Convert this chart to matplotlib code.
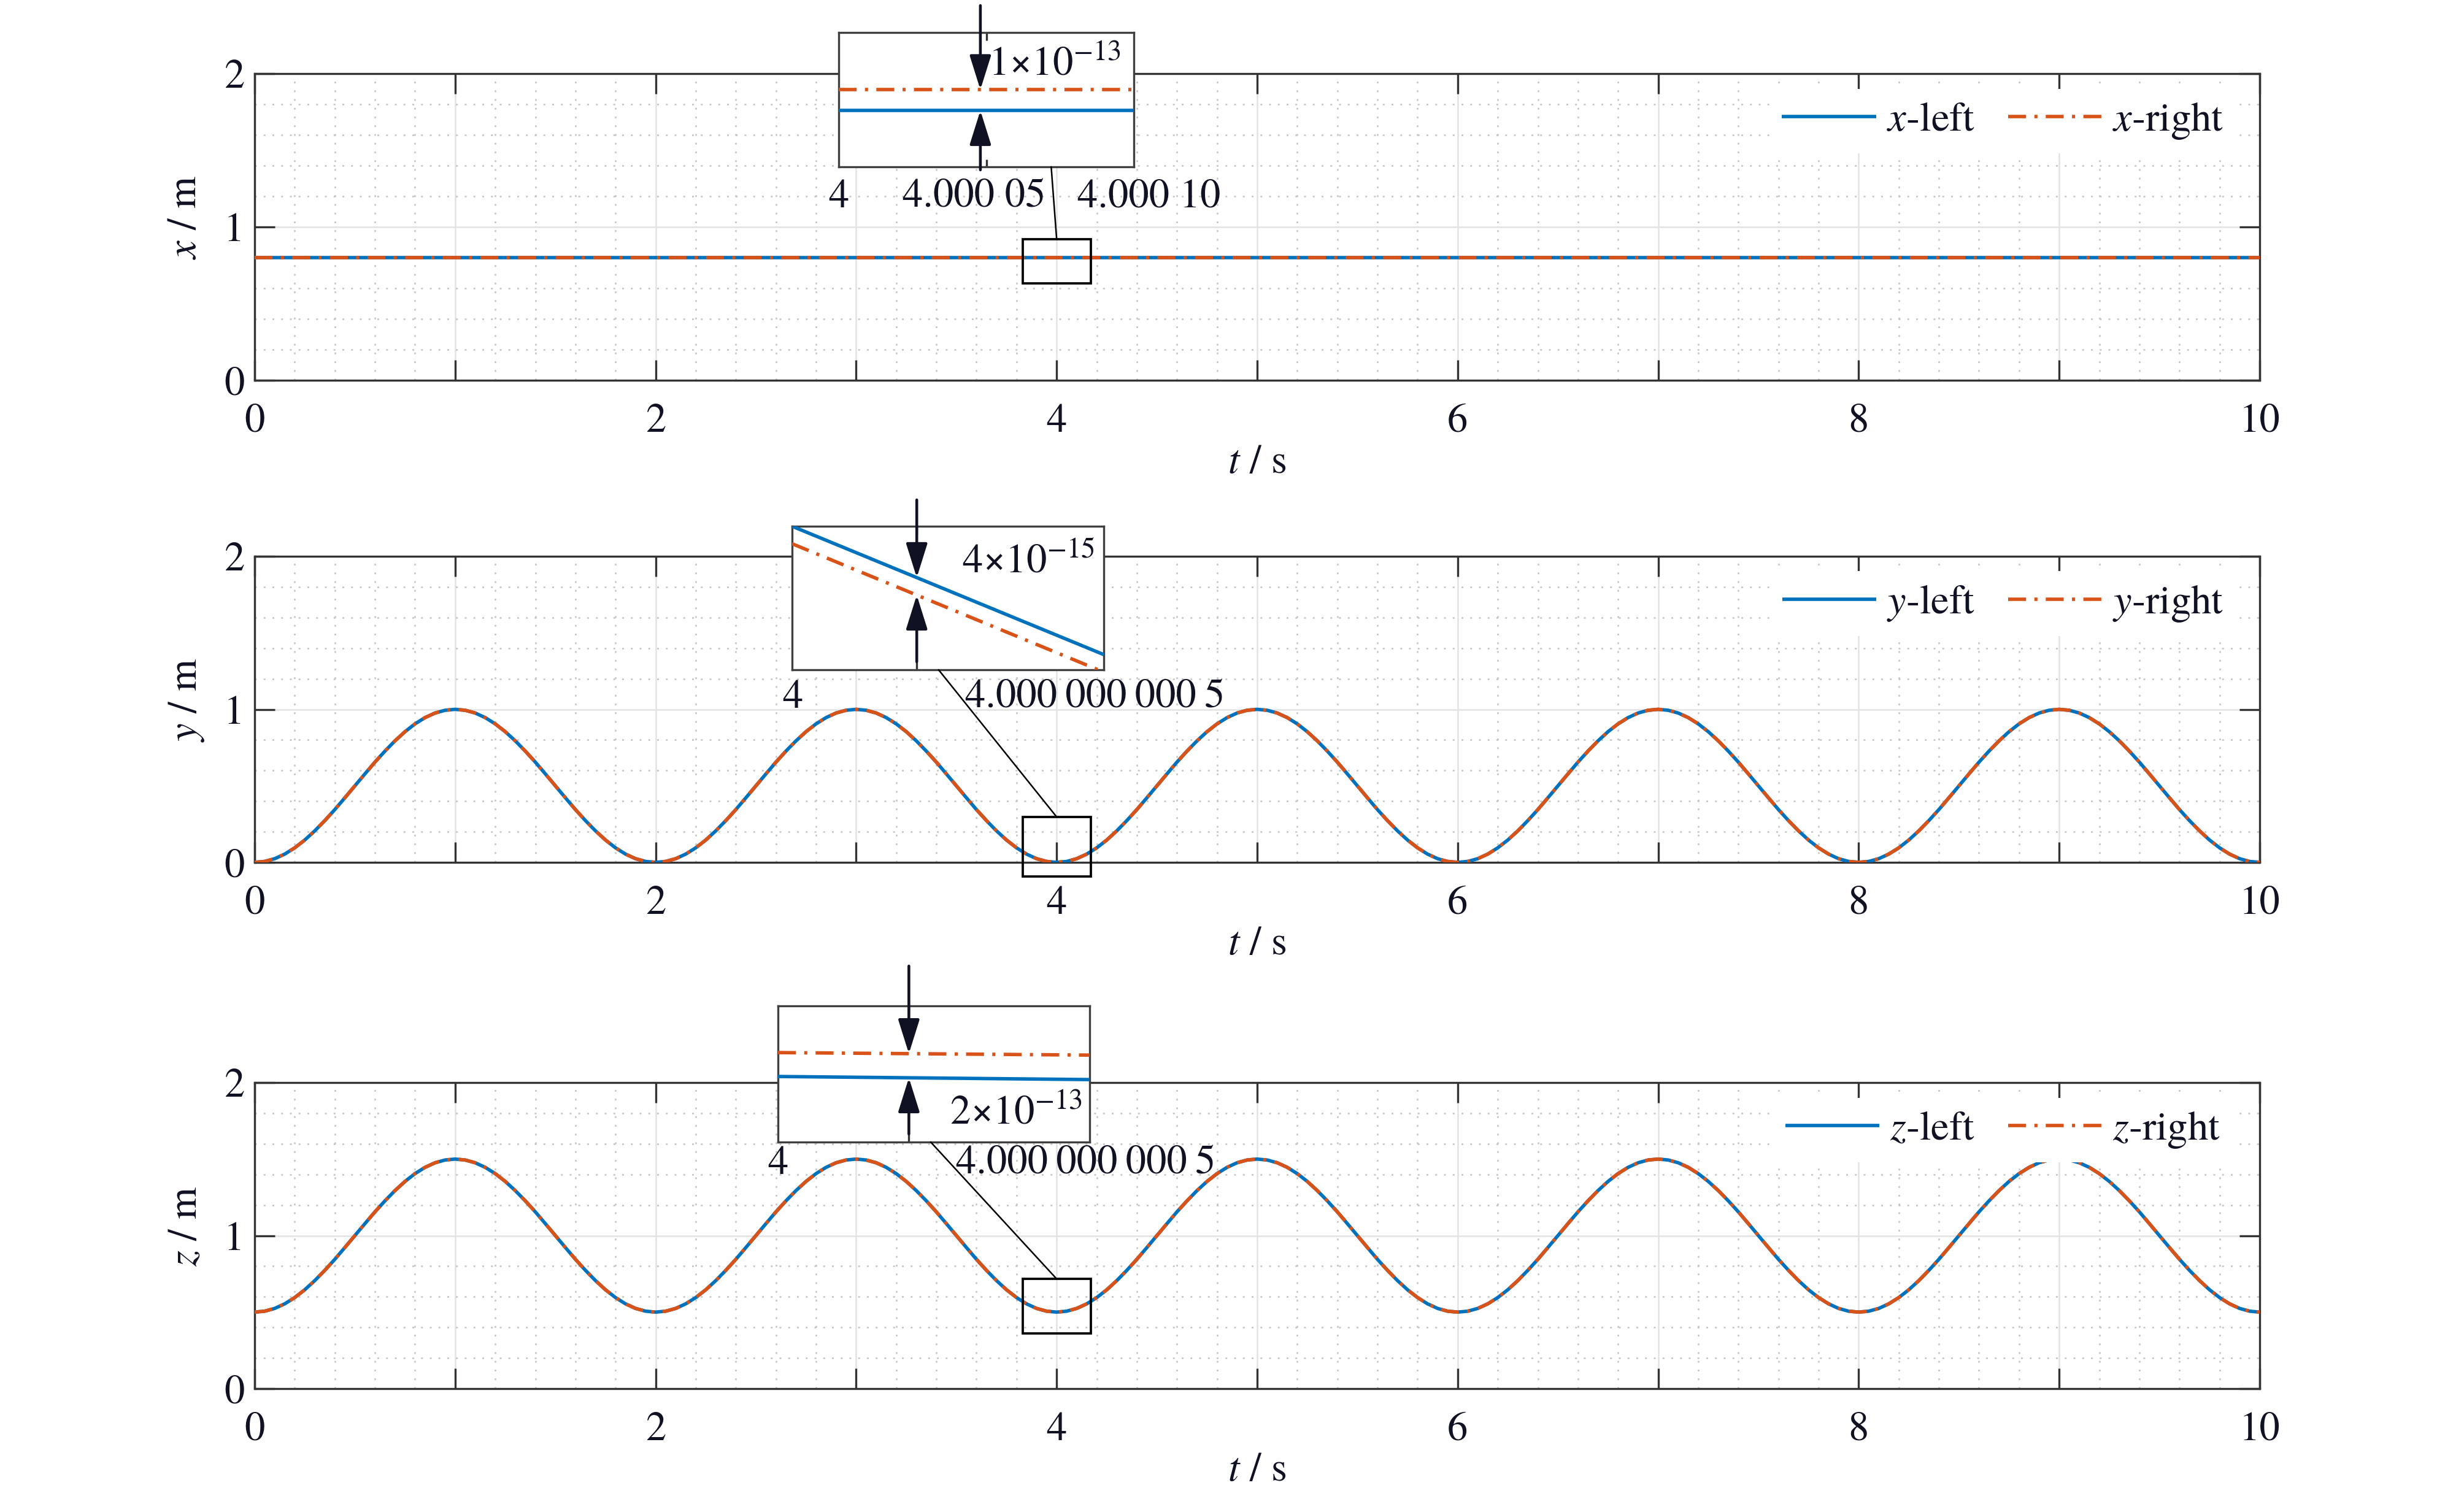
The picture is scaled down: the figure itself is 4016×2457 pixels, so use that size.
import numpy as np
import matplotlib
matplotlib.use("Agg")
import matplotlib.pyplot as plt
from matplotlib.patches import Rectangle, ConnectionPatch
from matplotlib.ticker import MultipleLocator, FixedLocator, FuncFormatter

# ---------------- data ----------------
t = np.round(np.arange(0, 201) * 0.05, 2)          # time samples, s

x_t = [0.0, 10.0]
x_left = [0.80, 0.80]
x_right = [0.80, 0.80]

y_left = [
    0.000, 0.006, 0.024, 0.054, 0.095, 0.146, 0.206, 0.273, 0.345, 0.422, 0.500, 0.578, 0.655, 0.727, 0.794, 0.854, 0.905, 0.946, 0.976, 0.994,
    1.000, 0.994, 0.976, 0.946, 0.905, 0.854, 0.794, 0.727, 0.655, 0.578, 0.500, 0.422, 0.345, 0.273, 0.206, 0.146, 0.095, 0.054, 0.024, 0.006,
    0.000, 0.006, 0.024, 0.054, 0.095, 0.146, 0.206, 0.273, 0.345, 0.422, 0.500, 0.578, 0.655, 0.727, 0.794, 0.854, 0.905, 0.946, 0.976, 0.994,
    1.000, 0.994, 0.976, 0.946, 0.905, 0.854, 0.794, 0.727, 0.655, 0.578, 0.500, 0.422, 0.345, 0.273, 0.206, 0.146, 0.095, 0.054, 0.024, 0.006,
    0.000, 0.006, 0.024, 0.054, 0.095, 0.146, 0.206, 0.273, 0.345, 0.422, 0.500, 0.578, 0.655, 0.727, 0.794, 0.854, 0.905, 0.946, 0.976, 0.994,
    1.000, 0.994, 0.976, 0.946, 0.905, 0.854, 0.794, 0.727, 0.655, 0.578, 0.500, 0.422, 0.345, 0.273, 0.206, 0.146, 0.095, 0.054, 0.024, 0.006,
    0.000, 0.006, 0.024, 0.054, 0.095, 0.146, 0.206, 0.273, 0.345, 0.422, 0.500, 0.578, 0.655, 0.727, 0.794, 0.854, 0.905, 0.946, 0.976, 0.994,
    1.000, 0.994, 0.976, 0.946, 0.905, 0.854, 0.794, 0.727, 0.655, 0.578, 0.500, 0.422, 0.345, 0.273, 0.206, 0.146, 0.095, 0.054, 0.024, 0.006,
    0.000, 0.006, 0.024, 0.054, 0.095, 0.146, 0.206, 0.273, 0.345, 0.422, 0.500, 0.578, 0.655, 0.727, 0.794, 0.854, 0.905, 0.946, 0.976, 0.994,
    1.000, 0.994, 0.976, 0.946, 0.905, 0.854, 0.794, 0.727, 0.655, 0.578, 0.500, 0.422, 0.345, 0.273, 0.206, 0.146, 0.095, 0.054, 0.024, 0.006,
    0.000]
y_right = list(y_left)

z_left = [
    0.500, 0.506, 0.524, 0.554, 0.595, 0.646, 0.706, 0.773, 0.845, 0.922, 1.000, 1.078, 1.155, 1.227, 1.294, 1.354, 1.405, 1.446, 1.476, 1.494,
    1.500, 1.494, 1.476, 1.446, 1.405, 1.354, 1.294, 1.227, 1.155, 1.078, 1.000, 0.922, 0.845, 0.773, 0.706, 0.646, 0.595, 0.554, 0.524, 0.506,
    0.500, 0.506, 0.524, 0.554, 0.595, 0.646, 0.706, 0.773, 0.845, 0.922, 1.000, 1.078, 1.155, 1.227, 1.294, 1.354, 1.405, 1.446, 1.476, 1.494,
    1.500, 1.494, 1.476, 1.446, 1.405, 1.354, 1.294, 1.227, 1.155, 1.078, 1.000, 0.922, 0.845, 0.773, 0.706, 0.646, 0.595, 0.554, 0.524, 0.506,
    0.500, 0.506, 0.524, 0.554, 0.595, 0.646, 0.706, 0.773, 0.845, 0.922, 1.000, 1.078, 1.155, 1.227, 1.294, 1.354, 1.405, 1.446, 1.476, 1.494,
    1.500, 1.494, 1.476, 1.446, 1.405, 1.354, 1.294, 1.227, 1.155, 1.078, 1.000, 0.922, 0.845, 0.773, 0.706, 0.646, 0.595, 0.554, 0.524, 0.506,
    0.500, 0.506, 0.524, 0.554, 0.595, 0.646, 0.706, 0.773, 0.845, 0.922, 1.000, 1.078, 1.155, 1.227, 1.294, 1.354, 1.405, 1.446, 1.476, 1.494,
    1.500, 1.494, 1.476, 1.446, 1.405, 1.354, 1.294, 1.227, 1.155, 1.078, 1.000, 0.922, 0.845, 0.773, 0.706, 0.646, 0.595, 0.554, 0.524, 0.506,
    0.500, 0.506, 0.524, 0.554, 0.595, 0.646, 0.706, 0.773, 0.845, 0.922, 1.000, 1.078, 1.155, 1.227, 1.294, 1.354, 1.405, 1.446, 1.476, 1.494,
    1.500, 1.494, 1.476, 1.446, 1.405, 1.354, 1.294, 1.227, 1.155, 1.078, 1.000, 0.922, 0.845, 0.773, 0.706, 0.646, 0.595, 0.554, 0.524, 0.506,
    0.500]
z_right = list(z_left)

# zoom insets (offsets after t = 4 s; values relative, in the stated units)
ins1_t = [0.0, 10.0]          # x 1e-5 s
ins1_left = [2.7, 2.7]        # x 1e-13 m
ins1_right = [3.7, 3.7]
ins2_t = [0.0, 5.0]           # x 1e-10 s
ins2_left = [31.2, 3.3]       # x 1e-15 m
ins2_right = [27.4, -0.5]
ins3_t = [0.0, 5.0]           # x 1e-10 s
ins3_left = [5.49, 5.23]      # x 1e-13 m
ins3_right = [7.49, 7.28]

x_ticks = list(range(0, 11))
y_ticks = [0, 1, 2]
ylabels = ["$x$ / m", "$y$ / m", "$z$ / m"]
legend_names = [("$x$-left", "$x$-right"), ("$y$-left", "$y$-right"), ("$z$-left", "$z$-right")]
gap_texts = ["1×10$^{-13}$", "4×10$^{-15}$", "2×10$^{-13}$"]
ins_labels = [["4", "4.000 05", "4.000 10"],
              ["4", "4.000\u2009000\u2009000\u20095"],
              ["4", "4.000\u2009000\u2009000\u20095"]]

# ---------------- style ----------------
plt.rcParams["font.family"] = ["TeX Gyre Termes", "STIXGeneral", "DejaVu Serif"]
plt.rcParams["mathtext.fontset"] = "stix"

W, H = 4016, 2457
DPI = 300
fig = plt.figure(figsize=(W / DPI, H / DPI), dpi=DPI)
fig.patch.set_facecolor("white")

TXT = "#111124"
SP = "#333333"
BLUE = "#0072BD"
ORANGE = "#D95319"
LW = 1.35
DASH = (5.2, 2.4, 0.9, 2.4)
FS = 16


def fpos(l, r, tp, b):
    return [l / W, 1 - b / H, (r - l) / W, (b - tp) / H]


panel_px = [(415, 3683, 120, 620), (415, 3683, 907, 1406), (415, 3683, 1765, 2264)]
series = [(x_t, x_left, x_right), (t, y_left, y_right), (t, z_left, z_right)]
rects = [(0.632, 0.920), (-0.092, 0.297), (0.361, 0.717)]

axes = []
for i, (pp, (tt, sl, sr)) in enumerate(zip(panel_px, series)):
    ax = fig.add_axes(fpos(*pp))
    axes.append(ax)
    ax.set_xlim(0, 10)
    ax.set_ylim(0, 2)
    ax.set_axisbelow(True)
    ax.plot(tt, sl, color=BLUE, lw=LW, solid_capstyle="butt", solid_joinstyle="round",
            label=legend_names[i][0], zorder=3)
    ax.plot(tt, sr, color=ORANGE, lw=LW, dashes=DASH, dash_capstyle="butt",
            label=legend_names[i][1], zorder=4)
    ax.xaxis.set_major_locator(FixedLocator(x_ticks))
    ax.xaxis.set_major_formatter(FuncFormatter(lambda v, p: str(int(round(v))) if int(round(v)) % 2 == 0 else ""))
    ax.yaxis.set_major_locator(FixedLocator(y_ticks))
    ax.xaxis.set_minor_locator(MultipleLocator(0.2))
    ax.yaxis.set_minor_locator(MultipleLocator(0.2))
    ax.grid(which="major", color="#e3e3e3", lw=0.6, ls="-")
    ax.grid(which="minor", color="#c4c4c4", lw=0.6, ls=(0, (1.2, 4.5)))
    ax.tick_params(which="major", direction="in", length=8, width=0.8, color=SP,
                   top=True, right=True, labelsize=FS, labelcolor=TXT)
    ax.tick_params(axis="x", which="major", pad=9)
    ax.tick_params(axis="y", which="major", pad=4)
    ax.tick_params(which="minor", length=0)
    for s in ax.spines.values():
        s.set_color(SP)
        s.set_linewidth(0.8)
    ax.set_xlabel("$t$ / s", fontsize=FS, color=TXT)
    ax.set_ylabel(ylabels[i], fontsize=FS, color=TXT)
    ax.xaxis.set_label_coords(0.5, -0.27)
    ax.xaxis.label.set_va("center")
    ax.yaxis.set_label_coords(-0.034, 0.53)
    ax.yaxis.label.set_va("center")
    leg = ax.legend(ncol=2, loc="center", bbox_to_anchor=(0.872, 0.845), fontsize=FS,
                    frameon=True, framealpha=1, edgecolor="none", facecolor="white",
                    handlelength=2.3, handletextpad=0.26, columnspacing=0.8,
                    borderpad=0.3, fancybox=False)
    for txt in leg.get_texts():
        txt.set_color(TXT)
    r0, r1 = rects[i]
    ax.add_patch(Rectangle((3.83, r0), 0.34, r1 - r0, fill=False, ec="black", lw=0.9,
                           clip_on=False, zorder=6))

# ---------------- insets ----------------
ins_px = [(1367, 1848, 53, 272), (1291, 1799, 858, 1092), (1268, 1776, 1640, 1862)]
ins_data = [(ins1_t, ins1_left, ins1_right), (ins2_t, ins2_left, ins2_right),
            (ins3_t, ins3_left, ins3_right)]
ins_ylim = [(0, 6.44), (0, 31.2), (0, 11.4)]
ins_tick = [5.0, 2.0, 2.1]
arrow_x = [4.8, 2.0, 2.1]
arrow_top_px = [9, 815, 1575]
arrow_bot_px = [277, 1079, 1849]
arrow_down_to = ["right", "left", "right"]
con_frac = [0.72, 0.47, 0.49]
gap_text_px = [(1719, 107), (1676, 917), (1656, 1817)]
label_px = [[(1367, 322), (1588, 322), (1873, 322)],
            [(1292, 1138), (1785, 1138)],
            [(1268, 1898), (1770, 1898)]]

for i in range(3):
    ip = ins_px[i]
    ins = fig.add_axes(fpos(*ip))
    ins.set_facecolor("white")
    it, il, ir = ins_data[i]
    ins.plot(it, il, color=BLUE, lw=LW, solid_capstyle="butt", zorder=3)
    ins.plot(it, ir, color=ORANGE, lw=LW, dashes=DASH, dash_capstyle="butt", zorder=4)
    ins.set_xlim(it[0], it[-1])
    ins.set_ylim(*ins_ylim[i])
    ins.set_xticks([ins_tick[i]])
    ins.set_yticks([])
    ins.tick_params(direction="in", length=3, width=0.8, color=SP, top=True,
                    labelbottom=False)
    for s in ins.spines.values():
        s.set_color("#404040")
        s.set_linewidth(0.8)

    # arrows marking the gap
    xa = arrow_x[i]
    v_left = float(np.interp(xa, it, il))
    v_right = float(np.interp(xa, it, ir))
    v_top, v_bot = (v_right, v_left) if arrow_down_to[i] == "right" else (v_left, v_right)
    style = "-|>,head_length=11.5,head_width=3.6"
    ap = dict(arrowstyle=style, mutation_scale=1, lw=1.1, color="#111124",
              shrinkA=0, shrinkB=0)
    ins.annotate("", xy=(xa, v_top), xycoords="data",
                 xytext=(xa, H - arrow_top_px[i]), textcoords=("data", "figure pixels"),
                 arrowprops=ap, annotation_clip=False)
    ins.annotate("", xy=(xa, v_bot), xycoords="data",
                 xytext=(xa, H - arrow_bot_px[i]), textcoords=("data", "figure pixels"),
                 arrowprops=ap, annotation_clip=False)

    gx, gy = gap_text_px[i]
    fig.text(gx / W, 1 - gy / H, gap_texts[i], fontsize=FS, color=TXT, ha="center", va="center")
    for lab, (lx, ly) in zip(ins_labels[i], label_px[i]):
        fig.text(lx / W, 1 - ly / H, lab, fontsize=FS, color=TXT, ha="center", va="center")

    # connector from inset to the zoom rectangle
    r0, r1 = rects[i]
    con = ConnectionPatch(xyA=(con_frac[i], 0), coordsA=ins.transAxes,
                          xyB=(4.0, r1), coordsB=axes[i].transData,
                          color="black", lw=0.6)
    fig.add_artist(con)

fig.savefig("out.png", dpi=DPI, facecolor="white")
